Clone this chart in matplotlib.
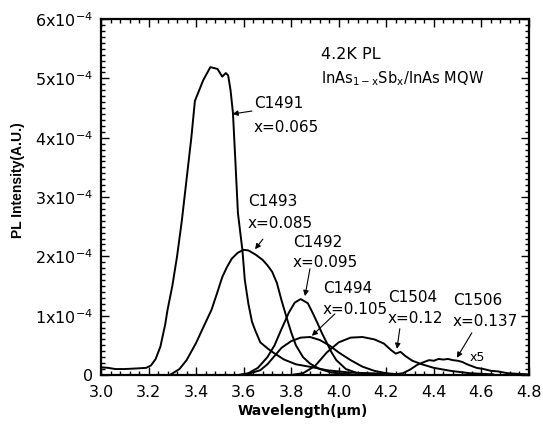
import matplotlib
matplotlib.use("Agg")
import matplotlib.pyplot as plt
from matplotlib.ticker import MultipleLocator, FixedLocator

plt.rcParams['font.family'] = ['DejaVu Sans']
plt.rcParams['mathtext.fontset'] = 'dejavusans'

# PL spectra, wavelength (um) vs intensity (units of 1e-4 A.U.)
c1491_wl = [3.00, 3.03, 3.06, 3.10, 3.15, 3.19, 3.21, 3.23, 3.25, 3.27, 3.28, 3.30,
            3.32, 3.34, 3.36, 3.38, 3.395, 3.41, 3.43, 3.46, 3.49, 3.51, 3.525, 3.535,
            3.545, 3.555, 3.565, 3.576, 3.595, 3.605, 3.62, 3.635, 3.648, 3.67, 3.70,
            3.72, 3.77, 3.82, 3.89, 3.95, 4.05, 4.20]
c1491_int = [0.13, 0.12, 0.10, 0.10, 0.11, 0.12, 0.16, 0.27, 0.48, 0.85, 1.10, 1.50,
             2.00, 2.60, 3.30, 4.00, 4.62, 4.77, 4.97, 5.19, 5.16, 5.03, 5.09, 5.05,
             4.80, 4.42, 3.63, 2.73, 2.10, 1.60, 1.20, 0.90, 0.76, 0.55, 0.45,
             0.39, 0.26, 0.18, 0.13, 0.08, 0.04, 0.02]

c1493_wl = [3.29, 3.33, 3.36, 3.40, 3.43, 3.465, 3.49, 3.51, 3.53, 3.55, 3.575, 3.60,
            3.62, 3.65, 3.68, 3.70, 3.72, 3.74, 3.76, 3.78, 3.80, 3.82, 3.85, 3.88,
            3.92, 3.97, 4.05]
c1493_int = [0.00, 0.10, 0.25, 0.54, 0.80, 1.10, 1.40, 1.65, 1.82, 1.96, 2.06, 2.11,
             2.10, 2.03, 1.94, 1.85, 1.74, 1.55, 1.25, 0.98, 0.72, 0.50, 0.30, 0.19,
             0.10, 0.04, 0.01]

c1492_wl = [3.58, 3.62, 3.66, 3.70, 3.73, 3.76, 3.79, 3.815, 3.84, 3.87, 3.89, 3.91,
            3.93, 3.95, 3.97, 3.99, 4.03, 4.08, 4.15]
c1492_int = [0.00, 0.03, 0.12, 0.30, 0.50, 0.78, 1.05, 1.22, 1.28, 1.21, 1.05, 0.88,
             0.70, 0.54, 0.38, 0.25, 0.10, 0.03, 0.00]

c1494_wl = [3.58, 3.62, 3.67, 3.70, 3.73, 3.76, 3.80, 3.84, 3.88, 3.92, 3.96, 4.00,
            4.05, 4.10, 4.15, 4.20, 4.28]
c1494_int = [0.00, 0.02, 0.08, 0.18, 0.32, 0.46, 0.57, 0.63, 0.64, 0.59, 0.50, 0.38,
             0.25, 0.14, 0.07, 0.03, 0.00]

c1504_wl = [3.80, 3.85, 3.90, 3.95, 4.00, 4.05, 4.10, 4.15, 4.19, 4.22, 4.24, 4.26,
            4.28, 4.31, 4.35, 4.40, 4.47, 4.55, 4.65]
c1504_int = [0.00, 0.03, 0.15, 0.38, 0.55, 0.63, 0.64, 0.60, 0.53, 0.42, 0.36, 0.39,
             0.32, 0.24, 0.18, 0.12, 0.07, 0.03, 0.01]

# C1506 is shown multiplied by 5
c1506_wl = [4.22, 4.27, 4.30, 4.33, 4.36, 4.38, 4.40, 4.42, 4.44, 4.46, 4.48, 4.50,
            4.52, 4.54, 4.56, 4.58, 4.61, 4.64, 4.67, 4.71, 4.75, 4.80]
c1506_int = [0.00, 0.03, 0.09, 0.17, 0.22, 0.25, 0.24, 0.27, 0.26, 0.27, 0.25, 0.24,
             0.22, 0.18, 0.15, 0.12, 0.10, 0.07, 0.06, 0.03, 0.02, 0.01]

series = [(c1491_wl, c1491_int), (c1493_wl, c1493_int), (c1492_wl, c1492_int),
          (c1494_wl, c1494_int), (c1504_wl, c1504_int), (c1506_wl, c1506_int)]

# sample labels: name, composition, text x, name y, composition y, arrow tail, arrow head
labels = [
    ("C1491", "x=0.065", 3.643, 4.57, 4.17, (3.635, 4.45), (3.553, 4.40)),
    ("C1493", "x=0.085", 3.618, 2.93, 2.56, (3.681, 2.29), (3.648, 2.12)),
    ("C1492", "x=0.095", 3.807, 2.23, 1.89, (3.879, 1.79), (3.858, 1.33)),
    ("C1494", "x=0.105", 3.934, 1.45, 1.11, (3.984, 1.03), (3.887, 0.66)),
    ("C1504", "x=0.12", 4.207, 1.30, 0.96, (4.257, 0.78), (4.245, 0.44)),
    ("C1506", "x=0.137", 4.48, 1.25, 0.91, (4.56, 0.71), (4.497, 0.29)),
]

fig = plt.figure(figsize=(5.43, 4.34), dpi=100)
ax = fig.add_axes([0.186, 0.136, 0.788, 0.820])

for wl, inten in series:
    ax.plot(wl, inten, color='black', lw=1.4, solid_joinstyle='round')

for name, comp, tx, ny, cy, tail, head in labels:
    ax.text(tx, ny, name, fontsize=11, ha='left', va='center')
    ax.text(tx, cy, comp, fontsize=11, ha='left', va='center')
    ax.annotate("", xy=head, xytext=tail,
                arrowprops=dict(arrowstyle='-|>', color='black', lw=0.8,
                                mutation_scale=8, shrinkA=0, shrinkB=0))

ax.text(4.552, 0.29, "x5", fontsize=9, ha='left', va='center')
ax.text(3.925, 5.41, "4.2K PL", fontsize=11.5, ha='left', va='center')
ax.text(3.925, 4.99, r"InAs$_{\mathrm{1-x}}$Sb$_{\mathrm{x}}$/InAs MQW",
        fontsize=10.5, ha='left', va='center')

ax.set_xlim(3.0, 4.8)
ax.set_ylim(0, 6)
xtick_vals = [3.0, 3.2, 3.4, 3.6, 3.8, 4.0, 4.2, 4.4, 4.6, 4.8]
ax.xaxis.set_major_locator(FixedLocator(xtick_vals))
ax.xaxis.set_minor_locator(MultipleLocator(0.04))
ax.set_xticklabels([f"{v:.1f}" for v in xtick_vals])
ytick_vals = [0, 1, 2, 3, 4, 5, 6]
ax.yaxis.set_major_locator(FixedLocator(ytick_vals))
ax.yaxis.set_minor_locator(MultipleLocator(0.1))
ax.set_yticklabels(["0"] + [rf"${v}\mathrm{{x10}}^{{\mathrm{{-4}}}}$" for v in ytick_vals[1:]])

ax.tick_params(which='both', direction='in', top=True, right=True, width=1.0)
ax.tick_params(which='major', length=6, labelsize=11.5)
ax.tick_params(axis='x', which='major', pad=7)
ax.tick_params(axis='y', which='major', pad=6)
ax.tick_params(which='minor', length=3)
for s in ax.spines.values():
    s.set_linewidth(1.6)

fig.text(303 / 543, 1 - 411 / 434, "Wavelength(\u03bcm)", fontsize=10, fontweight='bold',
         ha='center', va='center')
fig.text(18.5 / 543, 1 - 180 / 434, "PL Intensity(A.U.)", fontsize=10, fontweight='bold',
         family='Liberation Sans', rotation=90, ha='center', va='center')

fig.savefig("out.png", dpi=100)
